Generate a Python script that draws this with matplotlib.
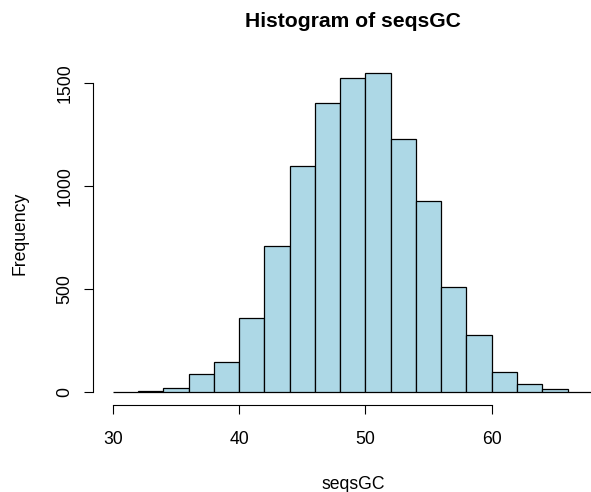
import numpy as np
import matplotlib
matplotlib.use('Agg')
import matplotlib.pyplot as plt

plt.rcParams['font.family'] = ['Liberation Sans', 'DejaVu Sans']

# histogram of seqsGC, bins of width 2
breaks = np.arange(30, 70, 2)
counts = [2, 7, 23, 87, 149, 361, 709, 1099, 1401, 1523,
          1547, 1231, 926, 513, 280, 100, 40, 15, 0]
xticks = [30, 40, 50, 60]
yticks = [0, 500, 1000, 1500]

fig = plt.figure(figsize=(5.91, 4.92), dpi=100)
ax = fig.add_axes([0.1582, 0.1766, 0.8774, 0.7002])

ax.bar(breaks[:-1], counts, width=2, align='edge', color='#ADD8E6',
       edgecolor='black', linewidth=0.9)

ax.set_xlim(28.48, 69.52)
ax.set_ylim(-61.9, 1608.9)

for s in ['top', 'right']:
    ax.spines[s].set_visible(False)
ax.spines['left'].set_bounds(0, 1500)
ax.spines['bottom'].set_bounds(30, 60)
for s in ['left', 'bottom']:
    ax.spines[s].set_linewidth(0.8)

ax.set_xticks(xticks)
ax.set_yticks(yticks)
ax.set_yticklabels([str(v) for v in yticks], rotation=90, va='center')
ax.tick_params(axis='both', length=6.5, width=0.8, labelsize=12.7)
ax.tick_params(axis='x', pad=12)
ax.tick_params(axis='y', pad=8)

ax.set_xlabel('seqsGC', fontsize=12.7, labelpad=20)
ax.set_ylabel('Frequency', fontsize=12.7, labelpad=20)
ax.set_title('Histogram of seqsGC', fontsize=15.2, fontweight='bold', pad=24)

fig.savefig('out.png', dpi=100)
